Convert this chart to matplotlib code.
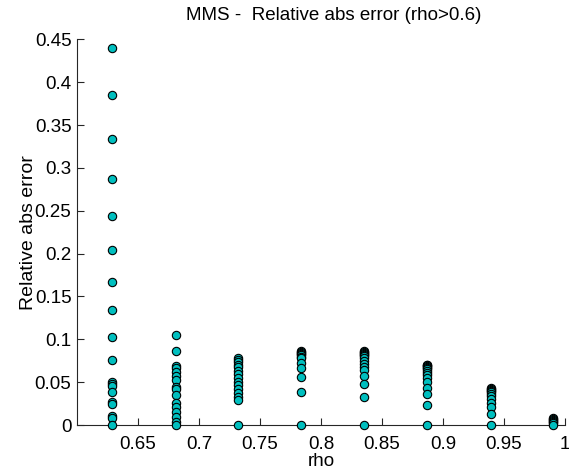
import numpy as np
import matplotlib
matplotlib.use('Agg')
import matplotlib.pyplot as plt

plt.rcParams['font.family'] = ['Liberation Sans', 'DejaVu Sans']

# rho values tested and the relative abs error for each run at that rho
rho_levels = [0.629, 0.681, 0.732, 0.784, 0.835, 0.887, 0.939, 0.990]
err_rho1 = [0.440, 0.385, 0.334, 0.287, 0.2435, 0.204, 0.167, 0.134, 0.103,
            0.0755, 0.0505, 0.0475, 0.045, 0.038, 0.027, 0.0245, 0.0105, 0.008, 0.0]
err_rho2 = [0.1046, 0.0867, 0.0688, 0.066, 0.0622, 0.0572, 0.0525, 0.0447,
            0.042, 0.035, 0.0253, 0.0214, 0.0148, 0.009, 0.004, 0.0]
err_rho3 = [0.0778, 0.0758, 0.073, 0.070, 0.0673, 0.0634, 0.0595, 0.0545,
            0.0505, 0.0467, 0.0416, 0.037, 0.033, 0.029, 0.0]
err_rho4 = [0.0867, 0.0855, 0.0844, 0.083, 0.0817, 0.0795, 0.0778, 0.0727,
            0.066, 0.0564, 0.0389, 0.0]
err_rho5 = [0.0858, 0.085, 0.084, 0.083, 0.0818, 0.080, 0.0778, 0.075, 0.0715,
            0.0675, 0.0642, 0.0572, 0.0478, 0.0323, 0.0]
err_rho6 = [0.0705, 0.070, 0.0692, 0.068, 0.0668, 0.065, 0.0632, 0.061, 0.0585,
            0.055, 0.0505, 0.0428, 0.0358, 0.0237, 0.0]
err_rho7 = [0.0428, 0.042, 0.041, 0.0398, 0.0382, 0.036, 0.0335, 0.030, 0.026,
            0.0206, 0.0132, 0.0]
err_rho8 = [0.0078, 0.007, 0.006, 0.0048, 0.0033, 0.0018, 0.0]
errors = [err_rho1, err_rho2, err_rho3, err_rho4, err_rho5, err_rho6, err_rho7, err_rho8]

fig = plt.figure(figsize=(5.69, 4.70), dpi=100)
ax = fig.add_axes([0.1353, 0.0957, 0.8577, 0.8207])

for r, e in zip(rho_levels, errors):
    ax.plot(np.full(len(e), r), e, 'o', markersize=6, markerfacecolor='#00bfbf',
            markeredgecolor='black', markeredgewidth=0.8, clip_on=False, zorder=3)

ax.set_xlim(0.6, 1.0)
ax.set_ylim(0, 0.45)
ax.set_xticks([0.65, 0.7, 0.75, 0.8, 0.85, 0.9, 0.95, 1.0])
ax.set_xticklabels(['0.65', '0.7', '0.75', '0.8', '0.85', '0.9', '0.95', '1'])
ax.set_yticks(np.arange(0, 0.451, 0.05))
ax.set_yticklabels(['0', '0.05', '0.1', '0.15', '0.2', '0.25', '0.3', '0.35', '0.4', '0.45'])

# matlab style: no box, ticks pointing in
ax.spines['top'].set_visible(False)
ax.spines['right'].set_visible(False)
for s in ['left', 'bottom']:
    ax.spines[s].set_color('#262626')
    ax.spines[s].set_linewidth(0.8)
ax.tick_params(direction='in', length=5, width=0.8, colors='#262626',
               labelcolor='black', labelsize=13.5)
ax.tick_params(axis='x', pad=8)
ax.tick_params(axis='y', pad=4)

ax.set_title('MMS -  Relative abs error (rho>0.6)', fontsize=13.5, pad=14, x=0.525)
ax.set_xlabel('rho', fontsize=13.5, labelpad=0)
ax.set_ylabel('Relative abs error', fontsize=14, labelpad=-2)

fig.savefig('out.png', dpi=100)
